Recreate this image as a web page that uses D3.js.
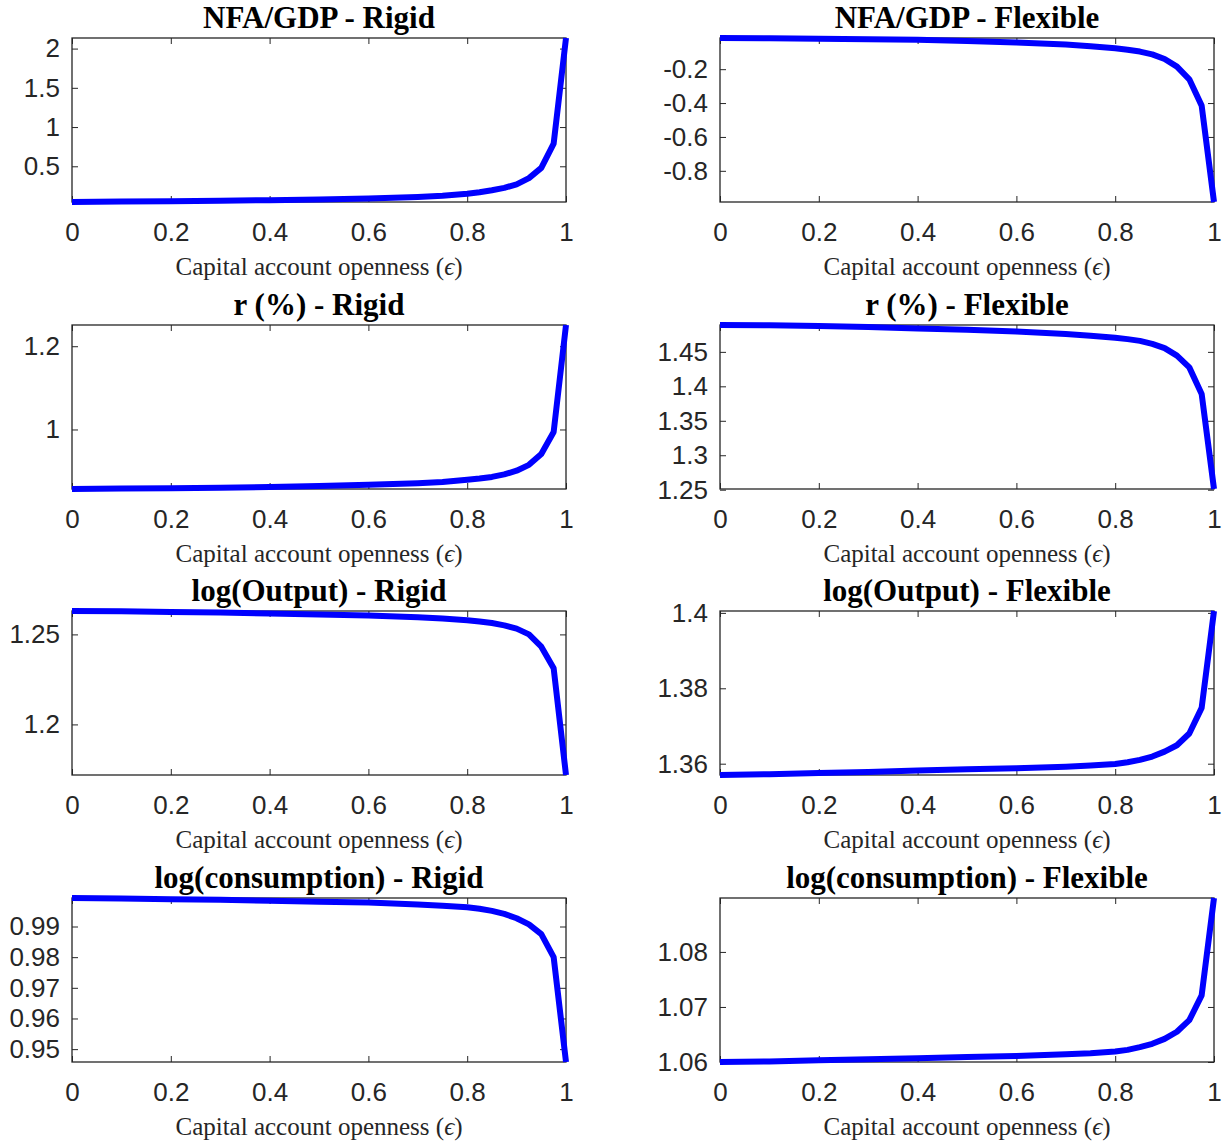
<!DOCTYPE html>
<html>
<head>
<meta charset="utf-8">
<script src="https://cdn.jsdelivr.net/npm/d3@7/dist/d3.min.js"></script>
<style>
body { margin: 0; background: #fff; }
</style>
</head>
<body>
<div id="chart"></div>
<script>
// capital account openness grid (x of every panel)
const aEps = [0, 0.1, 0.2, 0.3, 0.4, 0.5, 0.6, 0.7, 0.75, 0.8, 0.825, 0.85, 0.875, 0.9, 0.925, 0.95, 0.975, 1];

// series, one per panel
const aNfaRigid = [0.045, 0.050, 0.055, 0.061, 0.068, 0.077, 0.090, 0.110, 0.125, 0.150, 0.170, 0.195, 0.225, 0.270, 0.350, 0.480, 0.790, 2.135];
const aNfaFlex = [-0.016, -0.018, -0.020, -0.023, -0.027, -0.033, -0.042, -0.055, -0.064, -0.076, -0.085, -0.096, -0.113, -0.140, -0.185, -0.260, -0.415, -0.984];
const aRateRigid = [0.857, 0.858, 0.859, 0.860, 0.862, 0.864, 0.867, 0.871, 0.874, 0.879, 0.882, 0.886, 0.892, 0.901, 0.915, 0.941, 0.994, 1.251];
const aRateFlex = [1.489, 1.4885, 1.4875, 1.4862, 1.4840, 1.4820, 1.4795, 1.4760, 1.4735, 1.4705, 1.4685, 1.4660, 1.4615, 1.4555, 1.4445, 1.4275, 1.3890, 1.2510];
const aOutputRigid = [1.2630, 1.2628, 1.2625, 1.2621, 1.2616, 1.2611, 1.2605, 1.2595, 1.2588, 1.2579, 1.2572, 1.2563, 1.2550, 1.2532, 1.2500, 1.2432, 1.2312, 1.1719];
const aOutputFlex = [1.3570, 1.3572, 1.3575, 1.3578, 1.3582, 1.3585, 1.3588, 1.3592, 1.3595, 1.3599, 1.3604, 1.3610, 1.3619, 1.3632, 1.3649, 1.3680, 1.3748, 1.4005];
const aConsRigid = [0.9993, 0.9991, 0.9989, 0.9987, 0.9984, 0.9981, 0.9978, 0.9972, 0.9968, 0.9963, 0.9958, 0.9951, 0.9941, 0.9927, 0.9907, 0.9875, 0.9800, 0.9458];
const aConsFlex = [1.0600, 1.0601, 1.0603, 1.0605, 1.0607, 1.0609, 1.0611, 1.0614, 1.0616, 1.0619, 1.0622, 1.0627, 1.0633, 1.0642, 1.0655, 1.0676, 1.0721, 1.0898];

const aTitle = [
    "NFA/GDP - Rigid", "NFA/GDP - Flexible",
    "r (%) - Rigid", "r (%) - Flexible",
    "log(Output) - Rigid", "log(Output) - Flexible",
    "log(consumption) - Rigid", "log(consumption) - Flexible"
];

// tick labels
const aXTick = [0, 0.2, 0.4, 0.6, 0.8, 1];
const aYTick = [
    [0.5, 1, 1.5, 2], [-0.8, -0.6, -0.4, -0.2],
    [1, 1.2], [1.25, 1.3, 1.35, 1.4, 1.45],
    [1.2, 1.25], [1.36, 1.38, 1.4],
    [0.95, 0.96, 0.97, 0.98, 0.99], [1.06, 1.07, 1.08]
];
const aSeries = [aNfaRigid, aNfaFlex, aRateRigid, aRateFlex, aOutputRigid, aOutputFlex, aConsRigid, aConsFlex];

const iWidthSvg = 1227, iHeightSvg = 1145;
const aLeft = [72, 720];            // left edge of axes box per column
const aTop = [38, 325, 611, 898];   // top edge of axes box per row
const iWidthAx = 494, iHeightAx = 164;
const sAxisColor = "#262626";

const d3Svg = d3.select("#chart").append("svg")
    .attr("width", iWidthSvg)
    .attr("height", iHeightSvg)
    .style("background", "#fff");

const d3XScale = d3.scaleLinear().domain([0, 1]).range([0, iWidthAx]);

function styleAxis(g, bLabel) {
    g.select(".domain").remove();
    g.selectAll(".tick line").attr("stroke", sAxisColor).attr("stroke-width", 1);
    if (bLabel) {
        g.selectAll(".tick text")
            .attr("fill", sAxisColor)
            .attr("font-family", "'Liberation Sans', Arial, sans-serif")
            .attr("font-size", "26px");
    } else {
        g.selectAll(".tick text").remove();
    }
}

aSeries.forEach((aValue, i) => {
    const iCol = i % 2, iRow = Math.floor(i / 2);
    const g = d3Svg.append("g").attr("transform", `translate(${aLeft[iCol]},${aTop[iRow]})`);
    const d3YScale = d3.scaleLinear().domain(d3.extent(aValue)).range([iHeightAx, 0]); // axis tight

    // ticks on all four sides, pointing inward
    g.append("g").attr("transform", `translate(0,${iHeightAx})`)
        .call(d3.axisBottom(d3XScale).tickValues(aXTick).tickFormat(d => String(d)).tickSizeInner(-6).tickSizeOuter(0).tickPadding(21))
        .call(s => styleAxis(s, true));
    g.append("g")
        .call(d3.axisTop(d3XScale).tickValues(aXTick).tickSizeInner(-6).tickSizeOuter(0))
        .call(s => styleAxis(s, false));
    g.append("g")
        .call(d3.axisLeft(d3YScale).tickValues(aYTick[i]).tickFormat(d => String(d)).tickSizeInner(-6).tickSizeOuter(0).tickPadding(12))
        .call(s => styleAxis(s, true));
    g.append("g").attr("transform", `translate(${iWidthAx},0)`)
        .call(d3.axisRight(d3YScale).tickValues(aYTick[i]).tickSizeInner(-6).tickSizeOuter(0))
        .call(s => styleAxis(s, false));

    g.append("rect")
        .attr("width", iWidthAx)
        .attr("height", iHeightAx)
        .attr("fill", "none")
        .attr("stroke", sAxisColor)
        .attr("stroke-width", 1.3);

    const d3Line = d3.line().x((v, j) => d3XScale(aEps[j])).y(v => d3YScale(v));
    g.append("path")
        .datum(aValue)
        .attr("d", d3Line)
        .attr("fill", "none")
        .attr("stroke", "#0000ff")
        .attr("stroke-width", 6)
        .attr("stroke-linejoin", "round");

    g.append("text")
        .text(aTitle[i])
        .attr("x", iWidthAx / 2)
        .attr("y", -10)
        .attr("text-anchor", "middle")
        .attr("font-family", "'Liberation Serif', 'Times New Roman', serif")
        .attr("font-weight", "bold")
        .attr("font-size", "31px")
        .attr("fill", "#000");

    const d3Label = g.append("text")
        .attr("x", iWidthAx / 2)
        .attr("y", iHeightAx + 73)
        .attr("text-anchor", "middle")
        .attr("font-family", "'Liberation Serif', 'Times New Roman', serif")
        .attr("font-size", "25px")
        .attr("fill", sAxisColor);
    d3Label.append("tspan").text("Capital account openness (");
    d3Label.append("tspan").attr("font-style", "italic").text("\u03f5");
    d3Label.append("tspan").text(")");
});
</script>
</body>
</html>
